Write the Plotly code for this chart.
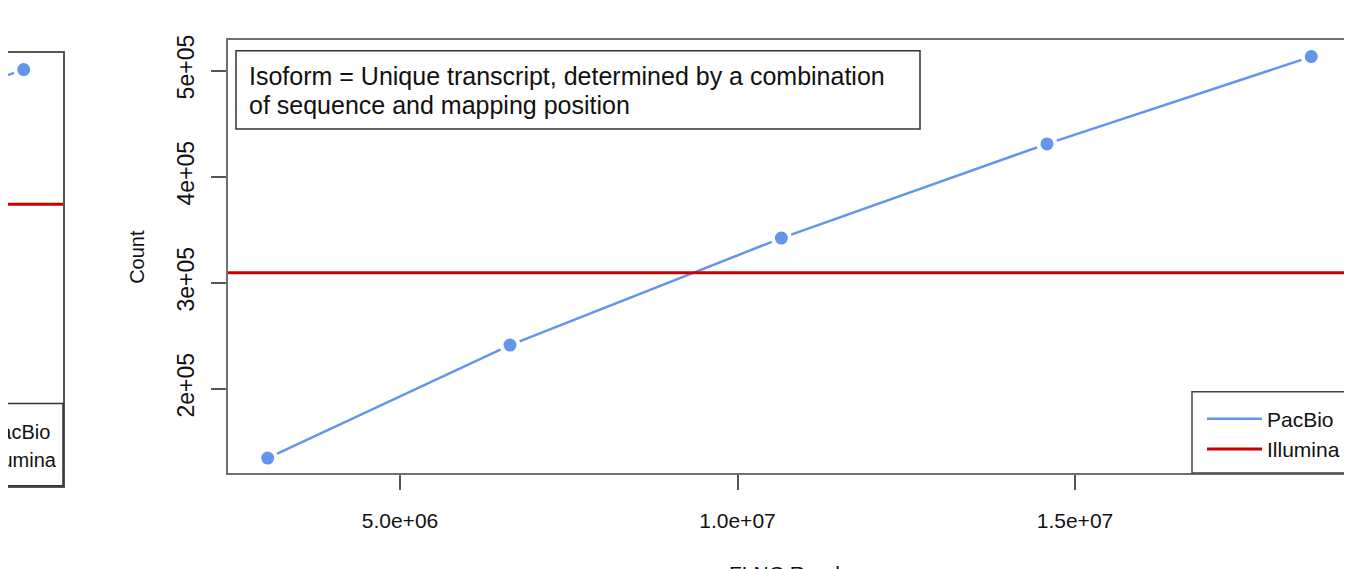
import plotly.graph_objects as go

# ---- data (main panel: isoforms) ----
flnc_reads = [3.04e6, 6.63e6, 10.65e6, 14.585e6, 18.5e6]
pacbio_isoforms = [134600, 241100, 342000, 430800, 513100]
illumina_isoforms = 309300

# ---- data (partially visible neighbouring panel on the left) ----
left_flnc_reads = [14.585e6, 18.5e6]
left_pacbio = [18560, 20570]
left_illumina = 17150

x_tickvals = [5e6, 1e7, 1.5e7]
x_ticktext = ["5.0e+06", "1.0e+07", "1.5e+07"]
y_tickvals = [2e5, 3e5, 4e5, 5e5]
y_ticktext = ["2e+05", "3e+05", "4e+05", "5e+05"]

X_RANGE = [2.452e6, 1.9074e7]
Y_RANGE = [1.206e5, 5.29e5]
X2_RANGE = [1.8233e7, 1.9167e7]
Y2_RANGE = [10000, 21000]

W, H = 1352, 569
OFF = 8  # page body margin offset
BLUE = "#6495ED"
RED = "#C80000"
FONT = "Liberation Sans, Arial, sans-serif"

def px(v):
    return (v - OFF) / W

def py(v):
    return 1 - (v - OFF) / H

fig = go.Figure()

# main panel
fig.add_trace(go.Scatter(x=flnc_reads, y=pacbio_isoforms, mode="lines",
                         line=dict(color=BLUE, width=2.5), name="PacBio",
                         xaxis="x", yaxis="y"))
fig.add_trace(go.Scatter(x=flnc_reads, y=pacbio_isoforms, mode="markers",
                         marker=dict(color=BLUE, size=17, line=dict(color="white", width=4)),
                         showlegend=False, xaxis="x", yaxis="y"))
fig.add_trace(go.Scatter(x=[None], y=[None], mode="lines",
                         line=dict(color=RED, width=3), name="Illumina",
                         xaxis="x", yaxis="y"))
fig.add_shape(type="line", xref="x domain", yref="y", x0=0, x1=1,
              y0=illumina_isoforms, y1=illumina_isoforms,
              line=dict(color=RED, width=3))

# left (cropped) panel
fig.add_trace(go.Scatter(x=left_flnc_reads, y=left_pacbio, mode="lines",
                         line=dict(color=BLUE, width=2.5), showlegend=False,
                         xaxis="x2", yaxis="y2"))
fig.add_trace(go.Scatter(x=left_flnc_reads, y=left_pacbio, mode="markers",
                         marker=dict(color=BLUE, size=17, line=dict(color="white", width=4)),
                         showlegend=False, xaxis="x2", yaxis="y2"))
fig.add_shape(type="line", xref="x2 domain", yref="y2", x0=0, x1=1,
              y0=left_illumina, y1=left_illumina,
              line=dict(color=RED, width=3))

# left panel legend box (cropped)
fig.add_shape(type="rect", xref="paper", yref="paper",
              x0=px(-30), x1=px(63), y0=py(485), y1=py(402),
              line=dict(color="#333", width=1.5), fillcolor="white")
fig.add_annotation(text="PacBio", xref="paper", yref="paper", x=px(-15), y=py(431),
                   xanchor="left", yanchor="middle", showarrow=False,
                   font=dict(size=20, color="#111", family=FONT))
fig.add_annotation(text="Illumina", xref="paper", yref="paper", x=px(-15), y=py(459),
                   xanchor="left", yanchor="middle", showarrow=False,
                   font=dict(size=20, color="#111", family=FONT))

# main legend box
fig.add_shape(type="rect", xref="paper", yref="paper",
              x0=px(1192), x1=px(1400), y0=py(472), y1=py(390),
              line=dict(color="#444", width=1.5), fillcolor="white", layer="above")

# text box
fig.add_shape(type="rect", xref="paper", yref="paper",
              x0=px(236), x1=px(920), y0=py(125), y1=py(46),
              line=dict(color="#333", width=1.5), fillcolor="white")
fig.add_annotation(text="Isoform = Unique transcript, determined by a combination",
                   xref="paper", yref="paper", x=px(247), y=py(72),
                   xanchor="left", yanchor="middle", align="left", showarrow=False,
                   font=dict(size=25, color="#111", family=FONT))
fig.add_annotation(text="of sequence and mapping position",
                   xref="paper", yref="paper", x=px(247), y=py(101),
                   xanchor="left", yanchor="middle", align="left", showarrow=False,
                   font=dict(size=25, color="#111", family=FONT))

# axis titles
fig.add_annotation(text="Count", xref="paper", yref="paper", x=px(137), y=py(254),
                   textangle=-90, showarrow=False, xanchor="center", yanchor="middle",
                   font=dict(size=20, color="#111", family=FONT))
fig.add_annotation(text="FLNC Reads", xref="paper", yref="paper", x=px(789), y=py(560),
                   showarrow=False, xanchor="center", yanchor="top",
                   font=dict(size=21, color="#111", family=FONT))

axis_common = dict(showgrid=False, zeroline=False, showline=True, mirror=True,
                   linecolor="#707070", linewidth=2, ticks="outside", ticklen=15,
                   tickwidth=1.5, tickcolor="#555")

fig.update_layout(
    width=W, height=H,
    margin=dict(l=0, r=0, t=0, b=0),
    paper_bgcolor="white", plot_bgcolor="white",
    font=dict(family=FONT, color="#111"),
    xaxis=dict(domain=[px(228), px(1350)], range=X_RANGE, anchor="y",
               tickvals=x_tickvals, ticktext=x_ticktext, ticklabelstandoff=13,
               tickfont=dict(size=21, color="#111", family=FONT),
               **axis_common),
    yaxis=dict(domain=[py(472), py(35)], range=Y_RANGE, anchor="x",
               tickvals=y_tickvals, ticktext=y_ticktext, tickangle=-90,
               ticklabelstandoff=8,
               tickfont=dict(size=23, color="#111", family=FONT),
               **axis_common),
    xaxis2=dict(domain=[0, px(63)], range=X2_RANGE, anchor="y2",
                showgrid=False, zeroline=False, showline=True, mirror=True,
                linecolor="#555", linewidth=2, showticklabels=False, ticks=""),
    yaxis2=dict(domain=[py(485), py(48)], range=Y2_RANGE, anchor="x2", side="right",
                showgrid=False, zeroline=False, showline=True, mirror=False,
                linecolor="#555", linewidth=2, showticklabels=False, ticks=""),
    legend=dict(x=px(1202), y=py(397), xanchor="left", yanchor="top",
                borderwidth=0, bgcolor="rgba(0,0,0,0)", itemwidth=55,
                font=dict(size=21, color="#111", family=FONT),
                tracegroupgap=0),
    showlegend=True,
)

fig.write_html("out.html")
